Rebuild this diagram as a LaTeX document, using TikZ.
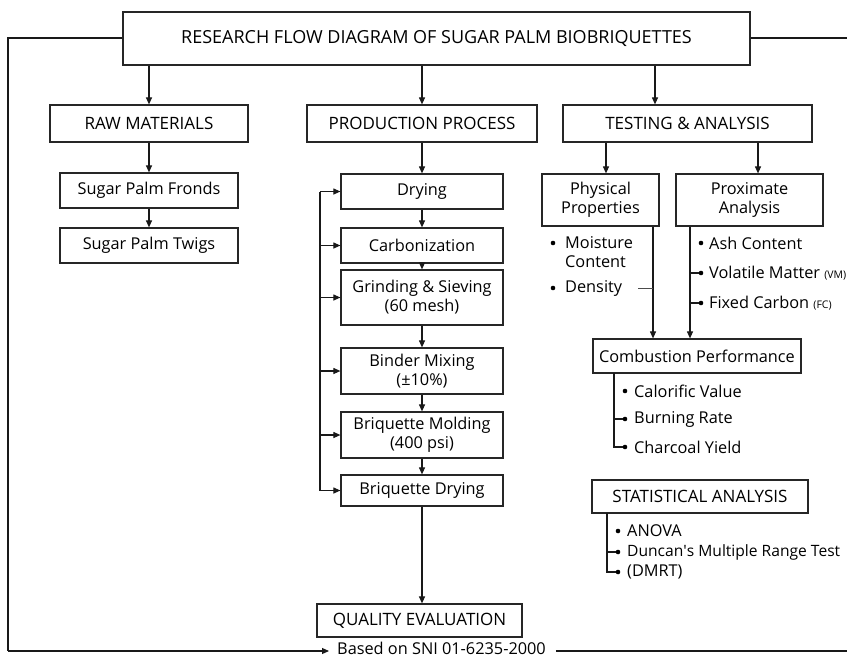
\documentclass[tikz,border=0pt]{standalone}
\usepackage{fontspec}
\setmainfont{Open Sans}
\usetikzlibrary{arrows.meta}
\begin{document}
\begin{tikzpicture}[x=1pt,y=-1pt,
  ln/.style={draw=black!90, line width=1.1pt},
  arr/.style={ln, -{Triangle[length=7pt,width=6pt]}},
  box/.style={draw=black!85, line width=1.2pt, align=center, inner sep=0pt,
    font=\fontsize{16.3}{19}\selectfont, fill=white},
  capbox/.style={box, font=\fontsize{17}{19}\selectfont},
  txt/.style={anchor=west, inner sep=0pt, font=\fontsize{16.3}{19}\selectfont},
  dot/.style={circle, fill=black, inner sep=0pt, minimum size=4.6pt}
]
\useasboundingbox (0,0) rectangle (847,657);
% frame
\coordinate (fl) at (8,38);
\coordinate (fbl) at (8,651);
\coordinate (fr) at (847,38);
\coordinate (fbr) at (847,651);
% top
\node[box, font=\fontsize{18}{20}\selectfont, minimum width=627pt, minimum height=53pt] (title) at (436.5,38.5) {RESEARCH FLOW DIAGRAM OF SUGAR PALM BIOBRIQUETTES};
\node[capbox, minimum width=198pt, minimum height=37pt] (raw) at (149,123.5) {RAW MATERIALS};
\node[capbox, minimum width=230pt, minimum height=37pt] (prod) at (422,123.5) {PRODUCTION PROCESS};
\node[capbox, minimum width=249pt, minimum height=37pt] (test) at (687.5,123.5) {TESTING \& ANALYSIS};
\draw[arr] (title.south -| raw.north) -- (raw.north);
\draw[arr] (title.south -| prod.north) -- (prod.north);
\draw[arr] ([xshift=-32.5pt]test.north |- title.south) -- ([xshift=-32.5pt]test.north);
% raw
\node[box, minimum width=178pt, minimum height=35pt] (fronds) at (149,190.5) {Sugar Palm Fronds};
\node[box, minimum width=178pt, minimum height=35pt] (twigs) at (149,245.5) {Sugar Palm Twigs};
\draw[arr] (raw.south -| fronds.north) -- (fronds.north);
\draw[arr] (fronds.south) -- (twigs.north);
% production
\node[box, minimum width=162pt, minimum height=35pt] (dry) at (422,191.5) {Drying};
\node[box, minimum width=162pt, minimum height=35pt] (carb) at (422,245.5) {Carbonization};
\node[box, minimum width=162pt, minimum height=55pt] (grind) at (422,297.5) {Grinding \& Sieving\\(60 mesh)};
\node[box, minimum width=162pt, minimum height=46pt] (bind) at (422,371) {Binder Mixing\\(±10\%)};
\node[box, minimum width=162pt, minimum height=46pt] (mold) at (422,435) {Briquette Molding\\(400 psi)};
\node[box, minimum width=162pt, minimum height=31pt] (bdry) at (422,490.5) {Briquette Drying};
\node[capbox, minimum width=205pt, minimum height=33pt] (qual) at (419.5,620.5) {QUALITY EVALUATION};
\draw[arr] (prod.south) -- (dry.north);
\draw[arr] (dry.south) -- (carb.north);
\draw[arr] (carb.south) -- (grind.north);
\draw[arr] (grind.south) -- (bind.north);
\draw[arr] (bind.south) -- (mold.north);
\draw[arr] (mold.south) -- (bdry.north);
\draw[arr] (bdry.south) -- (bdry.south |- qual.north);
\coordinate (bt) at (320,191.5);
\coordinate (bb) at (320,490.5);
\draw[ln] (bt) -- (bb);
\foreach \n in {dry,carb,grind,bind,mold,bdry}
  \draw[arr] (bt |- \n.west) -- (\n.west);
% testing
\node[box, minimum width=117pt, minimum height=52pt] (phys) at (600.5,200) {Physical\\Properties};
\node[box, minimum width=147pt, minimum height=52pt] (prox) at (749.5,200) {Proximate\\Analysis};
\draw[arr] ([xshift=-81.5pt]test.south) -- ([xshift=-81.5pt]test.south |- phys.north);
\draw[arr] ([xshift=70.5pt]test.south) -- ([xshift=70.5pt]test.south |- prox.north);
\node[box, minimum width=208pt, minimum height=34pt] (comb) at (697,356) {Combustion Performance};
\draw[arr] ([xshift=52.5pt]phys.south) -- ([xshift=52.5pt]phys.south |- comb.north);
\draw[arr] ([xshift=-59.5pt]prox.south) -- ([xshift=-59.5pt]prox.south |- comb.north);
% physical bullets
\node[dot] (pm) at (553,243) {};
\node[txt] (pmt) at (565,243) {Moisture};
\node[txt] (pct) at (565,262) {Content};
\node[dot] (pd) at (553,288) {};
\node[txt] (pdt) at (565,288) {Density};
\coordinate (ptk) at (638,288);
\draw[ln, line width=0.8pt, black!70] (ptk) -- ([xshift=52.5pt]phys.south |- ptk);
% proximate bullets
\node[dot] (xa) at (701,243) {};
\node[txt] (xat) at (709,243) {Ash Content};
\node[dot] (xv) at (701,273) {};
\node[txt] (xvt) at (709,273) {Volatile Matter {\fontsize{10.5}{11}\selectfont (VM)}};
\node[dot] (xf) at (701,303) {};
\node[txt] (xft) at (709,303) {Fixed Carbon {\fontsize{10.5}{11}\selectfont (FC)}};
\draw[ln] ([xshift=-59.5pt]prox.south |- xv) -- (xv);
\draw[ln] ([xshift=-59.5pt]prox.south |- xf) -- (xf);
% combustion bullets
\node[dot] (cc) at (625,391) {};
\node[txt] (cct) at (634,391) {Calorific Value};
\node[dot] (cb) at (625,419) {};
\node[txt] (cbt) at (634,419) {Burning Rate};
\node[dot] (cy) at (625,447) {};
\node[txt] (cyt) at (634,447) {Charcoal Yield};
\coordinate (cl) at (614,373);
\draw[ln] (cl) |- (cy);
\draw[ln] (cl |- cb) -- (cb);
% statistical
\node[capbox, minimum width=216pt, minimum height=33pt] (stat) at (700,496.5) {STATISTICAL ANALYSIS};
\node[dot] (sa) at (618,531) {};
\node[txt] (sat) at (627,531) {ANOVA};
\node[dot] (sd) at (618,552) {};
\node[txt, font=\fontsize{15.6}{19}\selectfont] (sdt) at (627,552) {Duncan\textquotesingle s Multiple Range Test};
\node[dot] (sm) at (618,572) {};
\node[txt] (smt) at (627,572) {(DMRT)};
\coordinate (sl) at (607,513);
\draw[ln] (sl) |- (sm);
\draw[ln] (sl |- sd) -- (sd);
% bottom
\node[anchor=base west, inner sep=0pt, font=\fontsize{16.3}{19}\selectfont] (sni) at (337,654) {Based on SNI 01-6235-2000};
\draw[ln] (title.west |- fl) -- (fl) -- (fbl);
\draw[arr] (fbl) -- ([xshift=-8pt]sni.west |- fbl);
\draw[ln] ([xshift=10pt]sni.east |- fbr) -- (fbr);
\draw[ln] (title.east |- fr) -- (fr);
\end{tikzpicture}
\end{document}
